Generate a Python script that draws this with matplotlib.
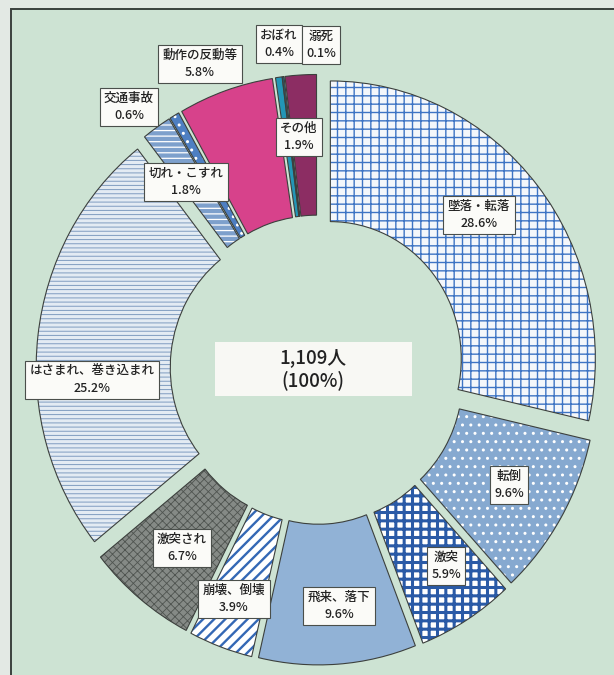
import matplotlib
matplotlib.use('Agg')
import matplotlib.pyplot as plt
from matplotlib.patches import Rectangle

plt.rcParams['font.family'] = ['Noto Sans CJK JP', 'DejaVu Sans']

# data (clockwise from 12 o'clock)
categories = ['墜落・転落', '転倒', '激突', '飛来、落下', '崩壊、倒壊', '激突され',
              'はさまれ、巻き込まれ', '切れ・こすれ', '交通事故', '動作の反動等',
              'おぼれ', '溺死', 'その他']
shares = [28.6, 9.6, 5.9, 9.6, 3.9, 6.7, 25.2, 1.8, 0.6, 5.8, 0.4, 0.1, 1.9]
total_people = 1109

# styles
face_colors = ['#f4f7fb', '#86a9d0', '#ffffff', '#91b2d6', '#ffffff', '#858a86',
               '#e3ebf3', '#7da0cc', '#4e7fc2', '#d7428b', '#2396b6', '#1c6b86', '#8c2d63']
hatches = ['++', '..', '++', None, '///', 'xxxx', '----', '---', '..', None, None, None, None]
hatch_colors = ['#3e74c4', '#ffffff', '#2a5aa6', '#91b2d6', '#3468b5', '#4f5450',
                '#7f9cc0', '#ffffff', '#ffffff', '#d7428b', '#2396b6', '#1c6b86', '#8c2d63']
hatch_widths = [1.0, 1.0, 2.2, 1.0, 1.7, 0.6, 0.7, 0.9, 1.0, 1.0, 1.0, 1.0, 1.0]

# label box centres, pixels from the top-left corner
label_pos = [(479, 215), (509, 485), (446, 566), (339, 606), (234, 599), (182, 548),
             (92, 380), (186, 182), (129, 107), (200, 64), (279, 44), (321, 45), (299, 137)]

W, H = 614, 675
cx, cy = 317.5, 369.7   # pie centre in pixels
rx, ry = 265.0, 278.0   # outer radius in pixels (scan is a bit taller than wide)

fig = plt.figure(figsize=(W / 100, H / 100), dpi=100)
fig.patch.set_facecolor('#e3e9e4')
fig.patches.append(Rectangle((11 / W, -0.05), 1.2, (H - 9) / H + 0.05,
                             transform=fig.transFigure, facecolor='#cde3d3',
                             edgecolor='#3b413d', linewidth=1.4, zorder=-2))

ax = fig.add_axes([0, 0, 1, 1])
ax.set_zorder(0)
ax.set_facecolor('none')

explode = [0.062] * len(shares)
wedges, _ = ax.pie(shares, startangle=90, counterclock=False, explode=explode,
                   colors=face_colors, hatch=hatches,
                   wedgeprops=dict(width=0.506, linewidth=0))
for w, hc, hl in zip(wedges, hatch_colors, hatch_widths):
    w.set_edgecolor(hc)
    if hasattr(w, 'set_hatch_linewidth'):
        w.set_hatch_linewidth(hl)

# outlines on top
ax.pie(shares, startangle=90, counterclock=False, explode=explode,
       wedgeprops=dict(width=0.506, facecolor='none', edgecolor='#3c403d', linewidth=0.8))

ax.set_aspect('auto')
ax.set_xlim(-cx / rx, (W - cx) / rx)
ax.set_ylim(-(H - cy) / ry, cy / ry)
ax.axis('off')

for name, share, (px, py) in zip(categories, shares, label_pos):
    fig.text(px / W, 1 - py / H, f'{name}\n{share}%', ha='center', va='center',
             fontsize=9, fontweight='medium', linespacing=1.4, color='#222222', zorder=5,
             bbox=dict(boxstyle='square,pad=0.35', fc='#fbfbf8', ec='#4a4f4b', lw=0.8))

# centre total
fig.patches.append(Rectangle((215 / W, 1 - 396 / H), 197 / W, 54 / H,
                             transform=fig.transFigure, facecolor='#f8f8f4',
                             edgecolor='none', zorder=1))
fig.text(313 / W, 1 - 369 / H, f'{total_people:,}人\n(100%)', ha='center', va='center',
         fontsize=13.5, fontweight='medium', linespacing=1.2, color='#222222', zorder=5)

fig.savefig('out.png', dpi=100, facecolor=fig.get_facecolor())
